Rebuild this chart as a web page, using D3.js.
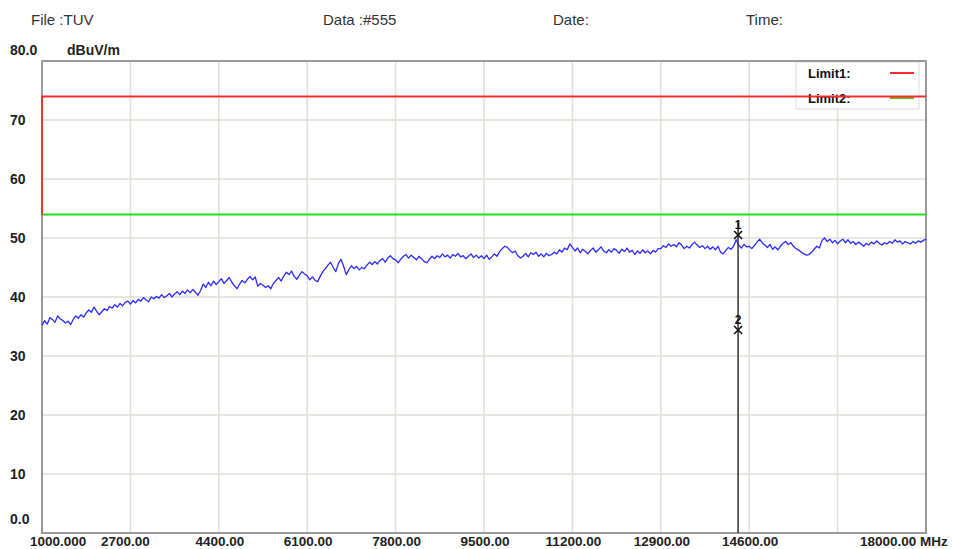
<!DOCTYPE html>
<html><head><meta charset="utf-8">
<script src="https://cdn.jsdelivr.net/npm/d3@7"></script>
<style>
html,body{margin:0;padding:0;background:#fff;overflow:hidden;}
svg{display:block;font-family:"Liberation Sans",Arial,sans-serif;}
</style></head>
<body>
<svg id="chart" width="953" height="549"></svg>
<script>
// ---- data ----
const headerTexts = ["File :TUV", "Data :#555", "Date:", "Time:"];
const yTicks = [0, 10, 20, 30, 40, 50, 60, 70, 80];
const yTickLabels = ["0.0", "10", "20", "30", "40", "50", "60", "70", "80.0"];
const yUnit = "dBuV/m";
const xTicks = [1000, 2700, 4400, 6100, 7800, 9500, 11200, 12900, 14600, 16300, 18000];
const xTickLabels = ["1000.000", "2700.00", "4400.00", "6100.00", "7800.00", "9500.00", "11200.00", "12900.00", "14600.00", "", "18000.00 MHz"];
const sweepStart = 1000, sweepStop = 18000;
// measured level (dBuV/m), one reading every 50 MHz from 1000 to 18000 MHz
const traceLevels = [
 35.2,36.0,35.4,36.5,36.2,35.7,36.8,36.3,36.0,35.6,35.9,35.3,36.2,36.8,36.4,37.0,36.6,37.3,37.8,37.4,38.3,37.6,37.0,37.5,38.0,37.7,38.4,38.1,38.7,38.3,38.9,38.5,39.1,39.3,
 38.8,39.4,39.0,39.6,39.3,39.9,39.5,39.2,40.0,39.7,40.1,39.8,40.4,39.9,40.2,40.6,40.0,40.5,40.9,40.4,41.0,40.6,41.2,40.7,41.3,40.8,40.3,41.1,42.2,41.6,42.5,41.9,42.7,42.1,
 42.6,43.1,42.3,42.8,43.3,42.5,41.9,41.4,42.2,42.8,42.4,43.0,43.5,42.9,43.4,41.8,42.3,42.0,41.6,41.9,41.4,42.3,42.8,43.3,42.7,43.6,44.2,43.8,44.4,43.5,43.0,43.7,44.3,43.9,
 43.6,42.9,43.4,42.8,42.6,43.5,44.3,44.8,45.4,45.9,45.0,44.3,45.7,46.4,45.2,43.8,44.6,45.3,44.8,45.2,44.6,45.0,44.8,45.4,45.9,45.5,46.0,45.6,46.2,46.5,45.9,46.6,47.0,46.5,
 46.3,45.8,46.4,46.9,47.2,46.6,47.1,46.7,46.3,46.9,46.5,46.0,45.8,46.4,46.9,46.5,47.0,46.7,47.3,46.8,47.1,46.6,47.2,46.9,47.4,46.8,47.0,46.5,46.9,47.3,46.7,47.1,46.6,47.0,
 46.5,47.1,46.4,46.8,47.3,46.9,47.7,48.2,48.6,48.4,47.9,47.5,47.8,47.0,46.6,46.9,47.4,46.8,47.5,47.2,47.6,46.9,47.3,46.8,47.4,47.0,47.2,47.6,47.3,48.0,47.6,48.3,48.0,49.0,
 48.4,47.8,48.3,47.5,48.1,47.7,47.3,47.9,48.3,47.6,48.0,48.5,47.8,47.5,48.0,47.6,48.2,47.9,47.4,48.1,47.7,48.3,47.6,47.9,47.2,47.8,47.4,48.0,47.5,47.8,47.3,47.9,47.6,48.2,
 48.2,48.7,48.4,49.0,48.6,48.9,48.5,49.2,48.8,48.2,48.6,48.3,48.9,49.3,48.8,48.4,48.7,48.2,48.6,48.1,48.5,48.0,48.6,47.6,47.3,47.9,48.4,48.1,48.6,49.7,48.8,48.3,48.9,48.5,
 48.6,48.2,48.7,49.3,49.8,49.2,48.8,48.4,48.9,48.1,48.5,48.0,48.6,49.1,49.4,48.9,49.2,48.6,48.2,48.0,47.6,47.3,47.1,47.2,47.6,48.1,48.6,48.3,49.6,50.0,49.4,49.8,49.2,49.6,
 49.0,49.5,49.8,49.2,49.7,49.1,49.4,48.9,49.3,49.0,48.6,49.1,48.8,49.3,49.0,49.5,49.1,48.8,49.2,49.0,49.4,49.1,49.7,49.3,49.5,49.0,49.4,49.2,49.0,49.4,49.1,49.5,49.3,49.6,49.8
];
const limit1Freq = [1000, 1000, 18000];
const limit1Level = [54, 74, 74];
const limit2Freq = [1000, 18000];
const limit2Level = [54, 54];
const legendNames = ["Limit1:", "Limit2:"];
const markerNames = ["1", "2"];
const markerFreq = [14386, 14386];
const markerLevel = [50.5, 34.4];

// ---- layout ----
const svg = d3.select("#chart");
const L = 42, R = 926, T = 61, B = 533;
const x = d3.scaleLinear().domain([sweepStart, sweepStop]).range([L, R]);
const y = d3.scaleLinear().domain([0, 80]).range([B, T]);
const colRed = "#ff2a2a", colGreen = "#22dd22", colBlue = "#2a2aff";

// header
const headerX = [31, 323, 553, 746];
svg.selectAll("text.hdr").data(headerTexts).join("text")
  .attr("class", "hdr").attr("x", (d, i) => headerX[i]).attr("y", 25)
  .attr("font-size", 15).attr("fill", "#333").text(d => d);

// grid
const g = svg.append("g");
g.selectAll("line.hg").data(yTicks.slice(1, -1)).join("line")
  .attr("x1", L).attr("x2", R).attr("y1", d => y(d)).attr("y2", d => y(d))
  .attr("stroke", "#e2ded8").attr("stroke-width", 1.5);
g.selectAll("line.vg").data(xTicks.slice(1, -1)).join("line")
  .attr("x1", d => x(d)).attr("x2", d => x(d)).attr("y1", T).attr("y2", B)
  .attr("stroke", "#e2ded8").attr("stroke-width", 1.5);

// legend box (white, on top of grid)
const lg = svg.append("g");
lg.append("rect").attr("x", 796).attr("y", 62).attr("width", 123).attr("height", 47)
  .attr("fill", "#fff").attr("stroke", "#dcdcdc").attr("stroke-width", 1);
legendNames.forEach((n, i) => {
  lg.append("text").attr("x", 808).attr("y", 78 + i * 25).attr("font-size", 13)
    .attr("font-weight", "bold").attr("fill", "#111").text(n);
  lg.append("line").attr("x1", 890).attr("x2", 914).attr("y1", 73 + i * 25).attr("y2", 73 + i * 25)
    .attr("stroke", i === 0 ? colRed : "#66bb22").attr("stroke-width", 2);
});

// frame
svg.append("rect").attr("x", L).attr("y", T).attr("width", R - L).attr("height", B - T)
  .attr("fill", "none").attr("stroke", "#9a9a9a").attr("stroke-width", 2);

// y axis labels
svg.selectAll("text.yl").data(yTicks).join("text")
  .attr("class", "yl").attr("x", 10)
  .attr("y", d => d === 80 ? y(d) - 6 : d === 0 ? y(d) - 9 : y(d) + 5)
  .attr("font-size", 14).attr("font-weight", "bold").attr("fill", "#222")
  .text((d, i) => yTickLabels[i]);
svg.append("text").attr("x", 67).attr("y", 55).attr("font-size", 14)
  .attr("font-weight", "bold").attr("fill", "#222").text(yUnit);

// x axis labels
const xLabelPos = xTicks.map((t, i) => {
  if (i === 0) return {x: 30, anchor: "start"};
  if (i === 1) return {x: x(t) - 5, anchor: "middle"};
  if (i === xTicks.length - 1) return {x: 860, anchor: "start"};
  return {x: x(t) + 1, anchor: "middle"};
});
svg.selectAll("text.xl").data(xTickLabels).join("text")
  .attr("class", "xl").attr("x", (d, i) => xLabelPos[i].x).attr("y", 546)
  .attr("text-anchor", (d, i) => xLabelPos[i].anchor)
  .attr("font-size", 13.5).attr("font-weight", "bold").attr("fill", "#222")
  .text(d => d);

// limit lines
const lineGen = d3.line().x(d => x(d[0])).y(d => y(d[1]));
svg.append("path").datum(limit2Freq.map((f, i) => [f, limit2Level[i]]))
  .attr("d", lineGen).attr("fill", "none").attr("stroke", colGreen).attr("stroke-width", 2);
svg.append("path").datum(limit1Freq.map((f, i) => [f, limit1Level[i]]))
  .attr("d", lineGen).attr("fill", "none").attr("stroke", colRed).attr("stroke-width", 2);

// trace
const step = (sweepStop - sweepStart) / (traceLevels.length - 1);
const trace = traceLevels.map((v, i) => [sweepStart + i * step, v]);
svg.append("path").datum(trace).attr("d", lineGen)
  .attr("fill", "none").attr("stroke", colBlue).attr("stroke-width", 1.3)
  .attr("stroke-linejoin", "round");

// marker line and markers
const mx = x(markerFreq[0]);
svg.append("line").attr("x1", mx).attr("x2", mx).attr("y1", y(d3.max(markerLevel)) - 13).attr("y2", B)
  .attr("stroke", "#333").attr("stroke-width", 1.5);
markerNames.forEach((n, i) => {
  const mX = x(markerFreq[i]), mY = y(markerLevel[i]);
  const s = 4;
  svg.append("path")
    .attr("d", `M${mX - s},${mY - s}L${mX + s},${mY + s}M${mX - s},${mY + s}L${mX + s},${mY - s}`)
    .attr("stroke", "#111").attr("stroke-width", 1.6).attr("fill", "none");
  svg.append("text").attr("x", mX).attr("y", mY - 6).attr("text-anchor", "middle")
    .attr("font-size", 12).attr("font-weight", "bold").attr("fill", "#111").text(n);
});
</script>
</body></html>
